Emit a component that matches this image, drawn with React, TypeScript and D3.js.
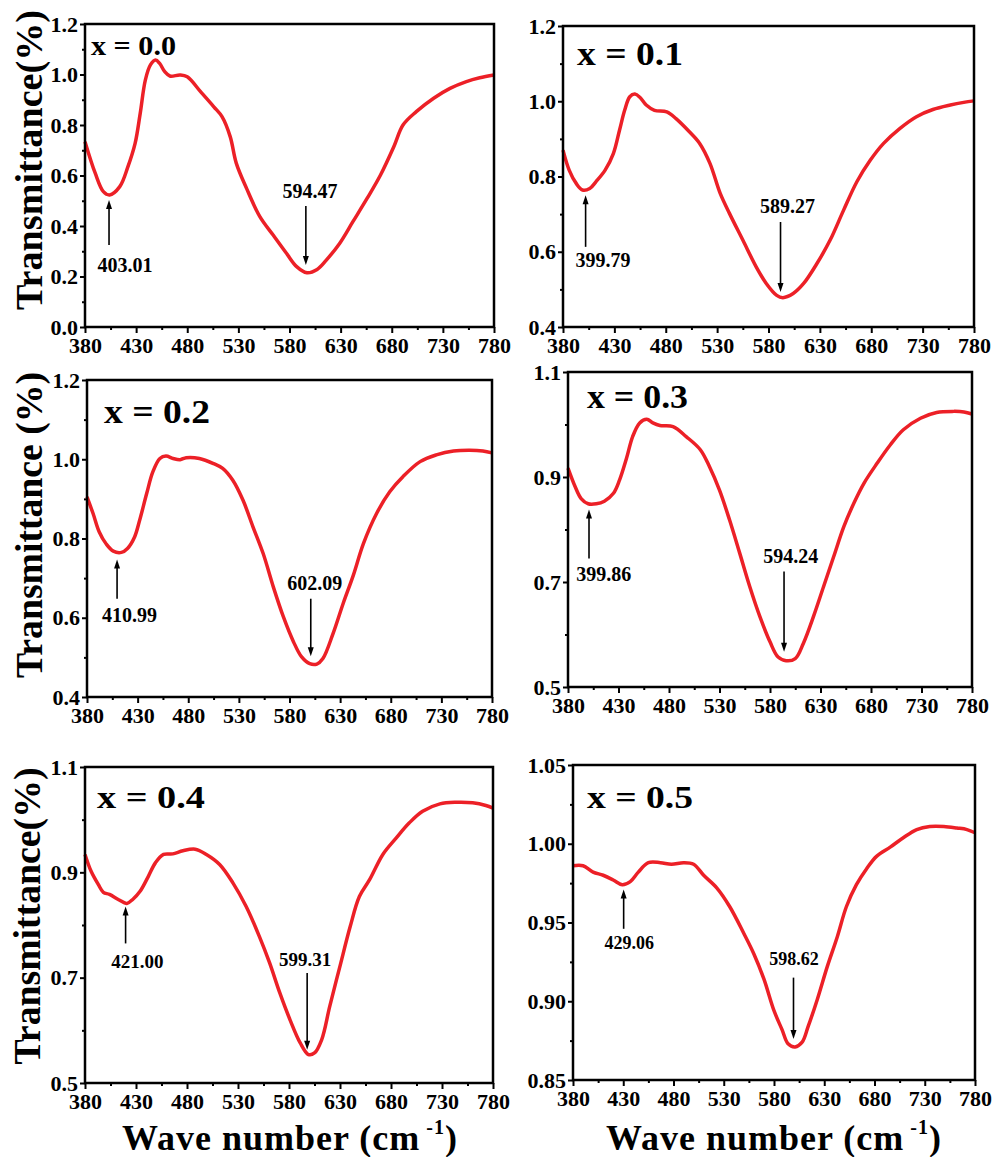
import React, { useEffect, useRef } from 'react';
import * as d3 from 'd3';

const FONT = "'Liberation Serif', 'Times New Roman', Times, serif";
const RED = '#ec2027';

// x = 0.0
const wn0 = [380, 390, 398, 404, 414, 422, 429, 434, 439, 444, 449, 453, 458, 463, 473, 480, 493, 506, 514, 522, 528, 538, 551, 564, 577, 587, 597, 607, 616, 629, 642, 656, 669, 682, 691, 704, 721, 737, 753, 766, 780];
const tr0 = [0.734, 0.609, 0.536, 0.523, 0.556, 0.635, 0.727, 0.846, 0.978, 1.038, 1.057, 1.044, 1.011, 0.994, 0.998, 0.991, 0.932, 0.872, 0.833, 0.754, 0.648, 0.549, 0.437, 0.364, 0.292, 0.239, 0.215, 0.228, 0.265, 0.331, 0.417, 0.51, 0.602, 0.714, 0.8, 0.853, 0.906, 0.945, 0.972, 0.987, 0.998];

// x = 0.1
const wn1 = [380, 386, 393, 399, 406, 412, 421, 429, 435, 440, 445, 450, 455, 461, 469, 481, 490, 503, 513, 523, 533, 542, 555, 568, 578, 588, 594, 604, 614, 627, 640, 653, 666, 679, 692, 708, 724, 740, 757, 770, 780];
const tr1 = [0.870, 0.817, 0.781, 0.764, 0.768, 0.786, 0.817, 0.861, 0.923, 0.976, 1.012, 1.019, 1.010, 0.990, 0.976, 0.972, 0.954, 0.919, 0.888, 0.835, 0.755, 0.702, 0.631, 0.560, 0.515, 0.484, 0.478, 0.489, 0.515, 0.568, 0.631, 0.710, 0.786, 0.843, 0.888, 0.928, 0.959, 0.978, 0.990, 0.997, 1.001];

// x = 0.2
const wn2 = [380, 386, 392, 399, 406, 414, 420, 427, 432, 439, 445, 452, 458, 465, 472, 478, 491, 505, 514, 524, 534, 544, 554, 564, 574, 584, 592, 600, 607, 613, 623, 633, 643, 653, 666, 679, 692, 709, 725, 742, 758, 771, 780];
const tr2 = [0.905, 0.863, 0.817, 0.786, 0.768, 0.765, 0.775, 0.804, 0.846, 0.914, 0.968, 1.002, 1.008, 1.002, 0.999, 1.004, 1.002, 0.989, 0.977, 0.947, 0.897, 0.829, 0.762, 0.678, 0.602, 0.539, 0.501, 0.484, 0.483, 0.497, 0.560, 0.636, 0.707, 0.787, 0.863, 0.918, 0.956, 0.994, 1.011, 1.021, 1.023, 1.021, 1.016];

// x = 0.3
const wn3 = [380, 387, 393, 400, 408, 416, 425, 431, 438, 444, 451, 458, 464, 471, 484, 497, 511, 520, 530, 540, 550, 560, 570, 580, 588, 596, 605, 613, 623, 633, 643, 653, 663, 673, 686, 699, 712, 729, 745, 762, 772, 780];
const tr3 = [0.917, 0.882, 0.859, 0.849, 0.849, 0.854, 0.869, 0.894, 0.936, 0.977, 1.003, 1.010, 1.003, 0.998, 0.996, 0.977, 0.952, 0.920, 0.875, 0.818, 0.755, 0.691, 0.634, 0.586, 0.557, 0.550, 0.554, 0.583, 0.634, 0.691, 0.748, 0.805, 0.850, 0.888, 0.926, 0.961, 0.990, 1.012, 1.023, 1.025, 1.024, 1.020];

// x = 0.4
const wn4 = [380, 386, 393, 398, 404, 413, 421, 427, 434, 442, 449, 457, 466, 476, 488, 499, 512, 525, 538, 551, 561, 571, 581, 591, 599, 605, 612, 620, 630, 640, 649, 659, 672, 685, 698, 711, 728, 744, 760, 773, 780];
const tr4 = [0.934, 0.902, 0.877, 0.862, 0.858, 0.848, 0.841, 0.849, 0.864, 0.892, 0.918, 0.934, 0.935, 0.941, 0.944, 0.934, 0.915, 0.880, 0.835, 0.778, 0.728, 0.671, 0.620, 0.576, 0.554, 0.557, 0.582, 0.646, 0.722, 0.797, 0.854, 0.886, 0.934, 0.965, 0.994, 1.016, 1.030, 1.033, 1.032, 1.027, 1.022];

// x = 0.5
const wn5 = [380, 390, 400, 410, 420, 429, 437, 445, 455, 467, 478, 490, 500, 510, 523, 536, 550, 560, 570, 580, 588, 594, 601, 608, 614, 623, 633, 643, 652, 662, 672, 682, 696, 709, 722, 735, 749, 762, 772, 780];
const tr5 = [0.986, 0.986, 0.982, 0.980, 0.977, 0.974, 0.976, 0.982, 0.988, 0.988, 0.987, 0.988, 0.987, 0.980, 0.972, 0.960, 0.943, 0.930, 0.914, 0.894, 0.882, 0.873, 0.871, 0.874, 0.884, 0.901, 0.922, 0.941, 0.960, 0.974, 0.984, 0.992, 0.998, 1.004, 1.009, 1.011, 1.011, 1.010, 1.009, 1.007];

// peak arrows: arrow at wave number x, from tail to tip (transmittance), label centred at lx / ly
const peaks0 = [
  { x: 403.5, tip: 0.503, tail: 0.325, label: '403.01', lx: 419, ly: 0.218 },
  { x: 596, tip: 0.246, tail: 0.479, label: '594.47', lx: 600, ly: 0.511 }
];
const peaks1 = [
  { x: 402, tip: 0.750, tail: 0.613, label: '399.79', lx: 419, ly: 0.560 },
  { x: 591.7, tip: 0.493, tail: 0.679, label: '589.27', lx: 598.5, ly: 0.702 }
];
const peaks2 = [
  { x: 409.7, tip: 0.747, tail: 0.648, label: '410.99', lx: 422, ly: 0.589 },
  { x: 601, tip: 0.503, tail: 0.648, label: '602.09', lx: 605, ly: 0.669 }
];
const peaks3 = [
  { x: 400.8, tip: 0.838, tail: 0.745, label: '399.86', lx: 415.4, ly: 0.702 },
  { x: 593.9, tip: 0.567, tail: 0.720, label: '594.24', lx: 600.5, ly: 0.737 }
];
const peaks4 = [
  { x: 419.8, tip: 0.835, tail: 0.765, label: '421.00', lx: 431.3, ly: 0.718 },
  { x: 597.8, tip: 0.563, tail: 0.709, label: '599.31', lx: 595.8, ly: 0.722 }
];
const peaks5 = [
  { x: 430.4, tip: 0.971, tail: 0.946, label: '429.06', lx: 436, ly: 0.933 },
  { x: 599.4, tip: 0.876, tail: 0.915, label: '598.62', lx: 600, ly: 0.923 }
];

const xTicks = d3.range(380, 781, 50);
const xMinor = d3.range(405, 780, 50);

const panels = [
  { wn: wn0, tr: tr0, peaks: peaks0, yDomain: [0, 1.2], yStep: 0.2, yFmt: '.1f', box: [85, 24, 494, 327],
    title: 'x = 0.0', tx: 6, ty: 31, tSize: 28, tLen: 85, annSize: 20,
    yLabel: 'Transmittance(%)', lcx: 29, lcy: 160, lLen: 300 },
  { wn: wn1, tr: tr1, peaks: peaks1, yDomain: [0.4, 1.2], yStep: 0.2, yFmt: '.1f', box: [563, 26, 974, 327],
    title: 'x = 0.1', tx: 14, ty: 39, tSize: 33, tLen: 106, annSize: 20 },
  { wn: wn2, tr: tr2, peaks: peaks2, yDomain: [0.4, 1.2], yStep: 0.2, yFmt: '.1f', box: [87, 380, 492, 697],
    title: 'x = 0.2', tx: 17, ty: 43, tSize: 33, tLen: 106, annSize: 20,
    yLabel: 'Transmittance (%)', lcx: 29, lcy: 525, lLen: 306 },
  { wn: wn3, tr: tr3, peaks: peaks3, yDomain: [0.5, 1.1], yStep: 0.2, yFmt: '.1f', box: [568, 372, 972, 687],
    title: 'x = 0.3', tx: 19, ty: 36, tSize: 34, tLen: 101, annSize: 20 },
  { wn: wn4, tr: tr4, peaks: peaks4, yDomain: [0.5, 1.1], yStep: 0.2, yFmt: '.1f', box: [85, 767, 493, 1083],
    title: 'x = 0.4', tx: 12, ty: 41, tSize: 31, tLen: 108, annSize: 19,
    yLabel: 'Transmittance(%)', lcx: 27, lcy: 916, lLen: 297 },
  { wn: wn5, tr: tr5, peaks: peaks5, yDomain: [0.85, 1.05], yStep: 0.05, yFmt: '.2f', box: [573, 765, 975, 1080],
    title: 'x = 0.5', tx: 14, ty: 43, tSize: 31, tLen: 106, annSize: 18 }
];

const App = () => {
  const ref = useRef<SVGSVGElement>(null);

  useEffect(() => {
    const svg = d3.select(ref.current);
    svg.selectAll('*').remove();

    panels.forEach(p => {
      const [l, t, r, b] = p.box;
      const x = d3.scaleLinear().domain([380, 780]).range([l, r]);
      const y = d3.scaleLinear().domain(p.yDomain).range([b, t]);
      const g = svg.append('g');

      const yTicks = d3.range(p.yDomain[0], p.yDomain[1] + 1e-9, p.yStep);
      const yMinor = d3.range(p.yDomain[0] + p.yStep / 2, p.yDomain[1], p.yStep);

      const styleAxis = (sel: any) => {
        sel.select('.domain').remove();
        sel.selectAll('line').attr('stroke', '#000').attr('stroke-width', 2);
        sel.selectAll('text')
          .attr('fill', '#000')
          .style('font-family', FONT)
          .style('font-size', '22px')
          .style('font-weight', 'bold');
      };

      // x axis
      g.append('g').attr('transform', `translate(0,${b})`)
        .call(d3.axisBottom(x).tickValues(xMinor).tickSize(3).tickSizeOuter(0).tickFormat(() => ''))
        .call(styleAxis);
      g.append('g').attr('transform', `translate(0,${b})`)
        .call(d3.axisBottom(x).tickValues(xTicks).tickSize(6).tickSizeOuter(0).tickPadding(4).tickFormat(d3.format('d')))
        .call(styleAxis);

      // y axis
      g.append('g').attr('transform', `translate(${l},0)`)
        .call(d3.axisLeft(y).tickValues(yMinor).tickSize(3).tickSizeOuter(0).tickFormat(() => ''))
        .call(styleAxis);
      g.append('g').attr('transform', `translate(${l},0)`)
        .call(d3.axisLeft(y).tickValues(yTicks).tickSize(5).tickSizeOuter(0).tickPadding(2).tickFormat(d3.format(p.yFmt)))
        .call(styleAxis);

      // spectrum
      const line = d3.line<number>()
        .x((d, i) => x(p.wn[i]))
        .y(d => y(d))
        .curve(d3.curveCatmullRom.alpha(0.5));
      g.append('path')
        .attr('d', line(p.tr))
        .attr('fill', 'none')
        .attr('stroke', RED)
        .attr('stroke-width', 3.5)
        .attr('stroke-linejoin', 'round');

      // frame
      g.append('rect')
        .attr('x', l).attr('y', t)
        .attr('width', r - l).attr('height', b - t)
        .attr('fill', 'none')
        .attr('stroke', '#000')
        .attr('stroke-width', 2.5);

      // peak arrows and labels
      p.peaks.forEach(pk => {
        const ax = x(pk.x);
        const tipY = y(pk.tip);
        const tailY = y(pk.tail);
        const dir = tipY < tailY ? 1 : -1; // 1 = arrow points up
        g.append('line')
          .attr('x1', ax).attr('x2', ax)
          .attr('y1', tailY).attr('y2', tipY + dir * 6)
          .attr('stroke', '#000')
          .attr('stroke-width', 1.6);
        g.append('path')
          .attr('d', `M${ax},${tipY} L${ax - 3},${tipY + dir * 9} L${ax + 3},${tipY + dir * 9} Z`)
          .attr('fill', '#000');
        g.append('text')
          .attr('x', x(pk.lx))
          .attr('y', y(pk.ly))
          .attr('text-anchor', 'middle')
          .style('font-family', FONT)
          .style('font-size', p.annSize + 'px')
          .style('font-weight', 'bold')
          .text(pk.label);
      });

      // panel title
      g.append('text')
        .attr('x', l + p.tx)
        .attr('y', t + p.ty)
        .attr('textLength', p.tLen)
        .attr('lengthAdjust', 'spacingAndGlyphs')
        .style('font-family', FONT)
        .style('font-size', p.tSize + 'px')
        .style('font-weight', 'bold')
        .text(p.title);

      // y label (left column only)
      if (p.yLabel) {
        g.append('text')
          .attr('transform', `translate(${p.lcx},${p.lcy}) rotate(-90)`)
          .attr('text-anchor', 'middle')
          .attr('dy', '0.35em')
          .attr('textLength', p.lLen)
          .attr('lengthAdjust', 'spacingAndGlyphs')
          .style('font-family', FONT)
          .style('font-size', '37px')
          .style('font-weight', 'bold')
          .text(p.yLabel);
      }
    });

    // x labels under the bottom row
    [290, 774].forEach(cx => {
      const txt = svg.append('text')
        .attr('x', cx)
        .attr('y', 1150)
        .attr('text-anchor', 'middle')
        .style('font-family', FONT)
        .style('font-size', '36px')
        .style('font-weight', 'bold')
        .style('letter-spacing', '1px');
      txt.append('tspan').text('Wave number (cm');
      txt.append('tspan').attr('dy', -16).attr('dx', 6).style('font-size', '20px').text('-1');
      txt.append('tspan').attr('dy', 16).text(')');
    });
  }, []);

  return (
    <svg ref={ref} width={993} height={1157}
      style={{ position: 'absolute', left: 0, top: 0, background: '#fff' }} />
  );
};

export default App;
